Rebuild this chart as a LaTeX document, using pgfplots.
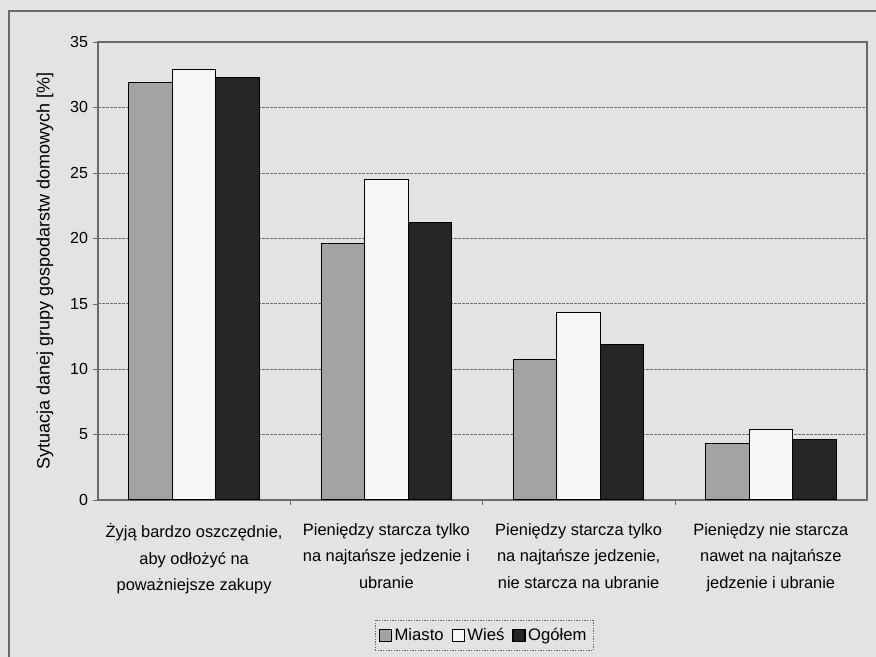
\documentclass[border=0pt]{standalone}
\usepackage{fontspec}
\setmainfont{Liberation Sans}
\usepackage{pgfplots}
\pgfplotsset{compat=1.18}
\definecolor{bg}{HTML}{E3E3E3}
\definecolor{miasto}{HTML}{A3A3A3}
\definecolor{ogolem}{HTML}{262626}
\definecolor{wies}{HTML}{F6F6F6}
\definecolor{gridc}{HTML}{6A6A6A}
\begin{document}
\begin{tikzpicture}
\useasboundingbox[fill=bg] (0pt,0pt) rectangle (657pt,492.75pt);
\draw[gridc, line width=0.8pt] (6.75pt,-10pt) -- (6.75pt,484.5pt) -- (700pt,484.5pt);
\begin{axis}[
  at={(73.5pt,117.75pt)}, anchor=south west,
  scale only axis, width=576.75pt, height=343.5pt,
  ybar=0pt, bar width=0.226,
  xmin=-0.5, xmax=3.5, ymin=0, ymax=35,
  ytick={0,5,...,35},
  xtick={0,1,2,3},
  xticklabels={{Żyją bardzo oszczędnie,\\aby odłożyć na\\poważniejsze zakupy},
               {Pieniędzy starcza tylko\\na najtańsze jedzenie i\\ubranie},
               {Pieniędzy starcza tylko\\na najtańsze jedzenie,\\nie starcza na ubranie},
               {Pieniędzy nie starcza\\nawet na najtańsze\\jedzenie i ubranie}},
  xticklabel style={align=center, font=\fontsize{12.3}{20}\selectfont, yshift=-10pt},
  yticklabel style={font=\fontsize{12}{14}\selectfont},
  /pgf/number format/assume math mode=true,
  xtick pos=bottom, ytick pos=left,
  major x tick style={draw=none},
  minor xtick={0.5,1.5,2.5},
  minor x tick style={draw=gridc},
  tick align=outside,
  major tick length=4pt, minor tick length=4pt,
  ytick style={draw=gridc},
  ymajorgrids,
  grid style={gridc, dashed, line width=0.5pt, dash pattern=on 2pt off 1pt},
  axis line style={gridc, line width=0.8pt},
  axis background/.style={fill=bg},
  ylabel={Sytuacja danej grupy gospodarstw domowych [\%]},
  ylabel style={font=\fontsize{13.5}{15}\selectfont, at={(axis description cs:-0.069,0.5)}, anchor=center},
  legend style={at={(axis description cs:0.502,-0.296)}, anchor=center,
    legend columns=-1, draw=gridc, dash pattern=on 1pt off 1pt, fill=bg,
    font=\fontsize{12.5}{14}\selectfont, inner xsep=3pt, inner ysep=4pt,
    /tikz/every even column/.append style={column sep=4pt}},
  legend image code/.code={\draw[#1, solid, line width=0.8pt] (0pt,-4.5pt) rectangle (9pt,4.5pt);},
]
\addplot[fill=miasto, draw=black, line width=0.8pt] coordinates {(0,31.9) (1,19.6) (2,10.75) (3,4.3)};
\addplot[fill=wies, draw=black, line width=0.8pt] coordinates {(0,32.9) (1,24.5) (2,14.3) (3,5.4)};
\addplot[fill=ogolem, draw=black, line width=0.8pt] coordinates {(0,32.3) (1,21.2) (2,11.9) (3,4.6)};
\legend{Miasto,Wieś,Ogółem}
\end{axis}
\end{tikzpicture}
\end{document}
